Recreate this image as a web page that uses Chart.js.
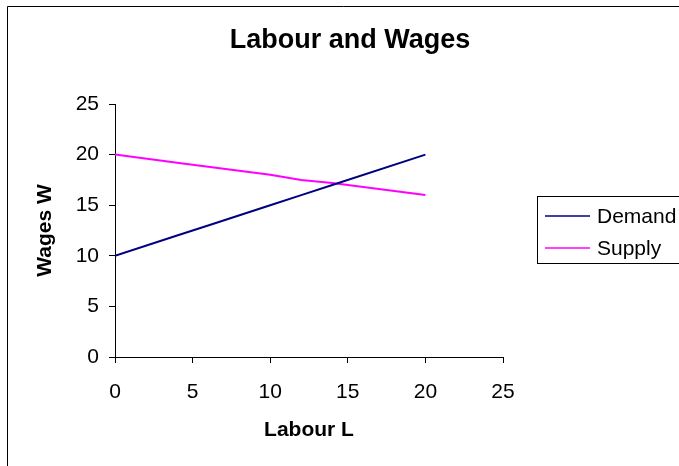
<!DOCTYPE html>
<html>
<head>
<meta charset="utf-8">
<script src="https://cdn.jsdelivr.net/npm/chart.js@4"></script>
<style>
  html, body { margin: 0; padding: 0; background: #fff; }
  #wrap { position: relative; width: 679px; height: 466px; }
</style>
</head>
<body>
<div id="wrap"><canvas id="c" width="679" height="466"></canvas></div>
<script>
// Labour (L) values and the wage (W) for each curve
const labour = [0, 4, 6, 10, 12, 14, 20];
const demandWages = [10, 12, 13, 15, 16, 17, 20];
const supplyWages = [20, 19.2, 18.8, 18, 17.5, 17.2, 16];
const axisTicks = [0, 5, 10, 15, 20, 25];
const seriesNames = ['Demand', 'Supply'];
const seriesColors = ['#000080', '#ff00ff'];
const chartTitle = 'Labour and Wages';

const FONT = 'Arial, "Liberation Sans", sans-serif';

function points(ys) {
  return labour.map((x, i) => ({ x: x, y: ys[i] }));
}

// Outer frame and the heading centred across the whole frame
const framePlugin = {
  id: 'frame',
  afterDraw(chart) {
    const ctx = chart.ctx;
    ctx.save();
    ctx.strokeStyle = '#000';
    ctx.lineWidth = 1;
    ctx.beginPath();
    ctx.moveTo(7.5, 470);
    ctx.lineTo(7.5, 6.5);
    ctx.lineTo(690, 6.5);
    ctx.stroke();
    ctx.fillStyle = '#000';
    ctx.font = 'bold 27px ' + FONT;
    ctx.textAlign = 'center';
    ctx.textBaseline = 'middle';
    ctx.fillText(chartTitle, 350, 41);
    ctx.restore();
  }
};

// Boxed legend to the right of the plot
const boxLegend = {
  id: 'boxLegend',
  afterDraw(chart) {
    const ctx = chart.ctx;
    const left = 537.5, top = 196.5, right = 700, bottom = 263.5;
    ctx.save();
    ctx.fillStyle = '#fff';
    ctx.fillRect(left, top, right - left, bottom - top);
    ctx.strokeStyle = '#000';
    ctx.lineWidth = 1;
    ctx.strokeRect(left, top, right - left, bottom - top);
    ctx.font = '21px ' + FONT;
    ctx.textBaseline = 'middle';
    ctx.textAlign = 'left';
    chart.data.datasets.forEach((ds, i) => {
      const y = 216 + i * 32;
      ctx.strokeStyle = ds.borderColor;
      ctx.lineWidth = 1.5;
      ctx.beginPath();
      ctx.moveTo(545, y);
      ctx.lineTo(590, y);
      ctx.stroke();
      ctx.fillStyle = '#000';
      ctx.fillText(ds.label, 597, y + 1);
    });
    ctx.restore();
  }
};

new Chart(document.getElementById('c'), {
  type: 'scatter',
  data: {
    datasets: [
      {
        label: seriesNames[0],
        data: points(demandWages),
        borderColor: seriesColors[0],
        backgroundColor: seriesColors[0],
        showLine: true,
        borderWidth: 2,
        pointRadius: 0,
        tension: 0
      },
      {
        label: seriesNames[1],
        data: points(supplyWages),
        borderColor: seriesColors[1],
        backgroundColor: seriesColors[1],
        showLine: true,
        borderWidth: 2,
        pointRadius: 0,
        tension: 0
      }
    ]
  },
  options: {
    responsive: false,
    animation: false,
    layout: { padding: { left: 0, right: 176, top: 104, bottom: 0 } },
    plugins: {
      legend: { display: false },
      tooltip: { enabled: false },
      title: { display: false }
    },
    scales: {
      x: {
        type: 'linear',
        min: 0,
        max: 25,
        afterBuildTicks(scale) { scale.ticks = axisTicks.map(v => ({ value: v })); },
        afterFit(scale) { scale.height = 109; },
        border: { display: true, color: '#000', width: 1 },
        grid: { display: true, drawOnChartArea: false, drawTicks: true, tickLength: 6, color: '#000' },
        ticks: { color: '#000', font: { family: FONT, size: 21 }, padding: 17, maxRotation: 0 },
        title: {
          display: true,
          text: 'Labour L',
          color: '#000',
          font: { family: FONT, size: 21, weight: 'bold' },
          padding: { top: 0, bottom: 23 }
        }
      },
      y: {
        type: 'linear',
        min: 0,
        max: 25,
        afterBuildTicks(scale) { scale.ticks = axisTicks.map(v => ({ value: v })); },
        afterFit(scale) { scale.width = 115; },
        border: { display: true, color: '#000', width: 1 },
        grid: { display: true, drawOnChartArea: false, drawTicks: true, tickLength: 6, color: '#000' },
        ticks: { color: '#000', font: { family: FONT, size: 21 }, padding: 10 },
        title: {
          display: true,
          text: 'Wages W',
          color: '#000',
          font: { family: FONT, size: 21, weight: 'bold' },
          padding: { top: 33, bottom: 0 }
        }
      }
    }
  },
  plugins: [framePlugin, boxLegend]
});
</script>
</body>
</html>
